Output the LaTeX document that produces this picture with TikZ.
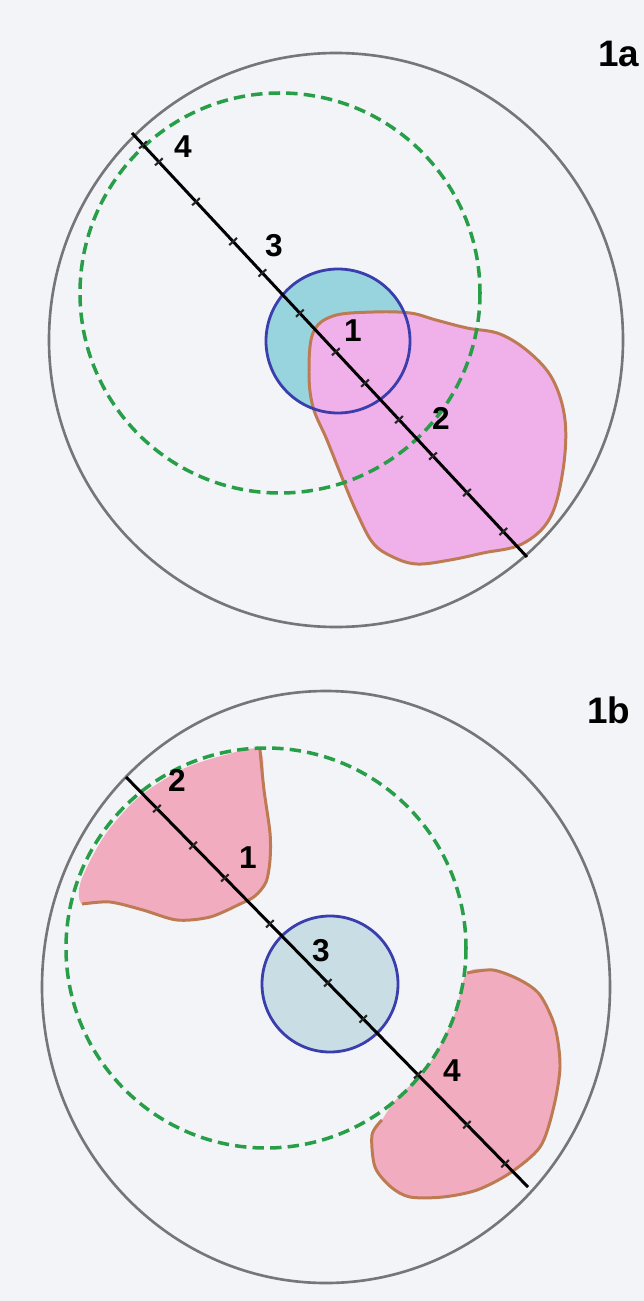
\documentclass[tikz,border=0pt]{standalone}
\usepackage{fontspec}
\setmainfont{Liberation Sans}
\usetikzlibrary{calc}
\definecolor{PaperGrey}{RGB}{242,244,248}
\definecolor{RingGrey}{RGB}{118,118,120}
\definecolor{ZoneGreen}{RGB}{40,158,72}
\definecolor{CoreBlue}{RGB}{58,62,172}
\definecolor{CoreFillA}{RGB}{152,212,222}
\definecolor{CoreFillB}{RGB}{200,222,228}
\definecolor{LesionBrown}{RGB}{190,122,82}
\definecolor{LesionViolet}{RGB}{240,176,234}
\definecolor{LesionPink}{RGB}{242,172,192}
\tikzset{
  ring/.style={draw=RingGrey,line width=1.5pt},
  zone/.style={draw=ZoneGreen,line width=2pt,dash pattern=on 6.5pt off 3.5pt},
  core/.style={draw=CoreBlue,line width=1.6pt},
  lesion/.style={draw=LesionBrown,line width=1.7pt,line join=round},
  scan/.style={draw=black,line width=1.7pt},
  tickmark/.style={draw=black!85,line width=1.2pt},
  lbl/.style={font=\fontsize{18}{18}\selectfont\bfseries,inner sep=0pt},
  panel/.style={font=\fontsize{21}{21}\selectfont\bfseries,inner sep=0pt,anchor=west}
}

\begin{document}
\begin{tikzpicture}[x=0.02cm,y=-0.02cm]
  \useasboundingbox (0,0) rectangle (644,1301);
  \fill[PaperGrey] (0,0) rectangle (644,1301);

  % panel 1a
  \draw[ring] (336,340) circle [radius=287];
  \fill[CoreFillA] (338,341) circle [radius=72];
  \filldraw[lesion,fill=LesionViolet] plot[smooth cycle,tension=0.6] coordinates {
    (313,333) (333,316) (373,312) (410,313) (436,320) (467,328) (500,334)
    (530,353) (553,380) (565,420) (563,470) (550,518) (522,544) (483,553)
    (450,560) (417,564) (393,557) (373,543) (357,513) (343,480) (327,440)
    (313,407) (309,373)};
  \draw[core] (338,341) circle [radius=72];
  \draw[zone] (280,293) circle [radius=200];
  \coordinate (a1) at (132,133);
  \coordinate (b1) at (527,557);
  \draw[scan] (a1) -- (b1);
  \foreach \t in {0.028,0.068,0.162,0.256,0.33,0.425,0.516,0.59,0.676,0.762,0.848,0.94}
    \draw[tickmark] ($(a1)!\t!(b1)!3pt!90:(b1)$) -- ($(a1)!\t!(b1)!3pt!-90:(b1)$);
  \node[lbl] (a4) at (183,147) {4};
  \node[lbl] (a3) at (274,246) {3};
  \node[lbl] (a1l) at (353,331) {1};
  \node[lbl] (a2) at (441,418) {2};
  \node[panel] (ta) at (598,54) {1a};

  % panel 1b
  \draw[ring] (326,987) ellipse [x radius=284,y radius=296];
  \fill[CoreFillB] (330,984) circle [radius=68];
  \draw[core] (330,984) circle [radius=68];
  \fill[LesionPink] plot[smooth cycle,tension=0.5] coordinates {
    (260,750) (264,790) (270,833) (270,860) (266,882) (255,896) (240,904)
    (210,917) (177,920) (143,910) (110,902) (82,904)
    (81,881) (105,835) (139,797) (183,769) (225,755)};
  \draw[lesion] plot[smooth,tension=0.5] coordinates {
    (260,750) (264,790) (270,833) (270,860) (266,882) (255,896) (240,904)
    (210,917) (177,920) (143,910) (110,902) (82,904)};
  \fill[LesionPink] plot[smooth cycle,tension=0.5] coordinates {
    (467,973) (493,970) (520,980) (540,995) (555,1027) (560,1067) (553,1110)
    (540,1147) (510,1173) (477,1190) (443,1197) (410,1197) (391,1187)
    (375,1167) (372,1135) (382,1120)
    (395,1101) (430,1063) (454,1016)};
  \draw[lesion] plot[smooth,tension=0.5] coordinates {
    (467,973) (493,970) (520,980) (540,995) (555,1027) (560,1067) (553,1110)
    (540,1147) (510,1173) (477,1190) (443,1197) (410,1197) (391,1187)
    (375,1167) (372,1135) (382,1120)};
  \draw[zone] (266,948) circle [radius=200];
  \coordinate (a2) at (126,777);
  \coordinate (b2) at (528,1187);
  \draw[scan] (a2) -- (b2);
  \foreach \t in {0.077,0.167,0.246,0.358,0.502,0.59,0.726,0.848,0.943}
    \draw[tickmark] ($(a2)!\t!(b2)!3pt!90:(b2)$) -- ($(a2)!\t!(b2)!3pt!-90:(b2)$);
  \node[lbl] (b2l) at (177,780) {2};
  \node[lbl] (b1l) at (248,858) {1};
  \node[lbl] (b3l) at (321,951) {3};
  \node[lbl] (b4l) at (452,1071) {4};
  \node[panel] (tb) at (587,710) {1b};
\end{tikzpicture}
\end{document}
